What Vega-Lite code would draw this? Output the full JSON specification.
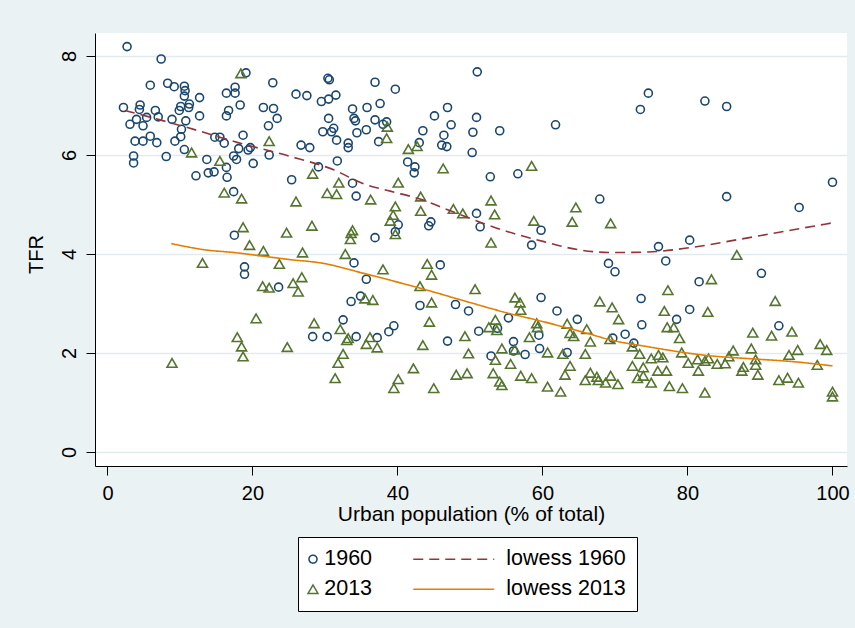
{
"$schema": "https://vega.github.io/schema/vega-lite/v6.json",
"width": 752, "height": 433,
"autosize": {"type": "none"},
"padding": {"left": 95, "top": 33, "right": 8, "bottom": 162},
"background": "#EAF2F3",
"view": {"fill": "#FFFFFF", "stroke": null},
"config": {"font": "Liberation Sans"},
"datasets": {
"pts": [
{"u":2.7,"t":8.19,"s":"1960"},{"u":7.4,"t":7.94,"s":"1960"},{"u":5.9,"t":7.41,"s":"1960"},{"u":8.3,"t":7.45,"s":"1960"},{"u":9.2,"t":7.38,"s":"1960"},{"u":10.6,"t":7.39,"s":"1960"},{"u":10.7,"t":7.30,"s":"1960"},{"u":10.6,"t":7.19,"s":"1960"},{"u":12.7,"t":7.16,"s":"1960"},{"u":11.3,"t":7.03,"s":"1960"},{"u":10.1,"t":6.98,"s":"1960"},{"u":11.2,"t":6.96,"s":"1960"},{"u":9.9,"t":6.90,"s":"1960"},{"u":2.2,"t":6.96,"s":"1960"},{"u":4.5,"t":7.01,"s":"1960"},{"u":4.4,"t":6.92,"s":"1960"},{"u":6.6,"t":6.90,"s":"1960"},{"u":4.0,"t":6.72,"s":"1960"},{"u":5.4,"t":6.76,"s":"1960"},{"u":3.1,"t":6.62,"s":"1960"},{"u":4.9,"t":6.59,"s":"1960"},{"u":7.0,"t":6.77,"s":"1960"},{"u":8.9,"t":6.72,"s":"1960"},{"u":10.8,"t":6.69,"s":"1960"},{"u":12.7,"t":6.79,"s":"1960"},{"u":10.2,"t":6.52,"s":"1960"},{"u":3.8,"t":6.28,"s":"1960"},{"u":4.9,"t":6.28,"s":"1960"},{"u":5.9,"t":6.38,"s":"1960"},{"u":6.8,"t":6.25,"s":"1960"},{"u":9.3,"t":6.28,"s":"1960"},{"u":10.1,"t":6.37,"s":"1960"},{"u":3.6,"t":5.98,"s":"1960"},{"u":3.6,"t":5.84,"s":"1960"},{"u":8.1,"t":5.97,"s":"1960"},{"u":10.6,"t":6.11,"s":"1960"},{"u":14.8,"t":6.36,"s":"1960"},{"u":15.5,"t":6.36,"s":"1960"},{"u":16.1,"t":6.24,"s":"1960"},{"u":18.7,"t":6.40,"s":"1960"},{"u":16.4,"t":7.25,"s":"1960"},{"u":17.6,"t":7.37,"s":"1960"},{"u":17.6,"t":7.25,"s":"1960"},{"u":18.3,"t":7.01,"s":"1960"},{"u":16.7,"t":6.90,"s":"1960"},{"u":16.4,"t":6.79,"s":"1960"},{"u":19.1,"t":7.66,"s":"1960"},{"u":22.8,"t":7.46,"s":"1960"},{"u":21.5,"t":6.96,"s":"1960"},{"u":22.9,"t":6.94,"s":"1960"},{"u":23.4,"t":6.74,"s":"1960"},{"u":22.2,"t":6.59,"s":"1960"},{"u":18.1,"t":6.13,"s":"1960"},{"u":17.4,"t":5.98,"s":"1960"},{"u":19.4,"t":6.10,"s":"1960"},{"u":19.7,"t":6.15,"s":"1960"},{"u":17.8,"t":5.91,"s":"1960"},{"u":20.1,"t":5.83,"s":"1960"},{"u":22.3,"t":6.00,"s":"1960"},{"u":13.7,"t":5.91,"s":"1960"},{"u":16.4,"t":5.75,"s":"1960"},{"u":12.2,"t":5.58,"s":"1960"},{"u":13.9,"t":5.64,"s":"1960"},{"u":14.7,"t":5.66,"s":"1960"},{"u":16.5,"t":5.55,"s":"1960"},{"u":17.4,"t":5.26,"s":"1960"},{"u":25.4,"t":5.50,"s":"1960"},{"u":17.5,"t":4.38,"s":"1960"},{"u":18.9,"t":3.74,"s":"1960"},{"u":18.9,"t":3.59,"s":"1960"},{"u":23.6,"t":3.33,"s":"1960"},
{"u":30.4,"t":7.55,"s":"1960"},{"u":30.6,"t":7.52,"s":"1960"},{"u":36.9,"t":7.47,"s":"1960"},{"u":39.7,"t":7.33,"s":"1960"},{"u":26.0,"t":7.23,"s":"1960"},{"u":27.5,"t":7.20,"s":"1960"},{"u":29.5,"t":7.08,"s":"1960"},{"u":30.5,"t":7.13,"s":"1960"},{"u":31.5,"t":7.21,"s":"1960"},{"u":33.8,"t":6.93,"s":"1960"},{"u":35.8,"t":6.96,"s":"1960"},{"u":37.6,"t":7.04,"s":"1960"},{"u":30.5,"t":6.74,"s":"1960"},{"u":34.0,"t":6.74,"s":"1960"},{"u":34.2,"t":6.69,"s":"1960"},{"u":36.9,"t":6.71,"s":"1960"},{"u":38.0,"t":6.62,"s":"1960"},{"u":38.5,"t":6.67,"s":"1960"},{"u":29.7,"t":6.47,"s":"1960"},{"u":30.9,"t":6.47,"s":"1960"},{"u":31.2,"t":6.54,"s":"1960"},{"u":31.6,"t":6.30,"s":"1960"},{"u":34.4,"t":6.45,"s":"1960"},{"u":35.7,"t":6.51,"s":"1960"},{"u":33.2,"t":6.24,"s":"1960"},{"u":33.2,"t":6.15,"s":"1960"},{"u":37.4,"t":6.27,"s":"1960"},{"u":26.7,"t":6.20,"s":"1960"},{"u":27.9,"t":6.15,"s":"1960"},{"u":43.5,"t":6.49,"s":"1960"},{"u":43.0,"t":6.25,"s":"1960"},{"u":45.1,"t":6.79,"s":"1960"},{"u":46.9,"t":6.96,"s":"1960"},{"u":47.4,"t":6.61,"s":"1960"},{"u":46.4,"t":6.40,"s":"1960"},{"u":46.1,"t":6.20,"s":"1960"},{"u":46.8,"t":6.17,"s":"1960"},{"u":31.7,"t":5.88,"s":"1960"},{"u":29.1,"t":5.76,"s":"1960"},{"u":33.8,"t":5.43,"s":"1960"},{"u":34.3,"t":5.17,"s":"1960"},{"u":41.4,"t":5.86,"s":"1960"},{"u":42.4,"t":5.76,"s":"1960"},{"u":42.3,"t":5.64,"s":"1960"},{"u":40.1,"t":4.59,"s":"1960"},{"u":39.7,"t":4.45,"s":"1960"},{"u":44.3,"t":4.57,"s":"1960"},{"u":44.6,"t":4.65,"s":"1960"},{"u":36.9,"t":4.33,"s":"1960"},
{"u":34.0,"t":3.82,"s":"1960"},{"u":45.9,"t":3.78,"s":"1960"},{"u":35.7,"t":3.49,"s":"1960"},{"u":33.6,"t":3.04,"s":"1960"},{"u":34.9,"t":3.15,"s":"1960"},{"u":43.1,"t":2.96,"s":"1960"},{"u":48.0,"t":2.98,"s":"1960"},{"u":49.8,"t":2.85,"s":"1960"},{"u":32.5,"t":2.67,"s":"1960"},{"u":28.3,"t":2.33,"s":"1960"},{"u":30.3,"t":2.33,"s":"1960"},{"u":34.3,"t":2.33,"s":"1960"},{"u":37.2,"t":2.31,"s":"1960"},{"u":38.8,"t":2.43,"s":"1960"},{"u":39.5,"t":2.55,"s":"1960"},{"u":46.9,"t":2.24,"s":"1960"},
{"u":51.0,"t":7.68,"s":"1960"},{"u":50.9,"t":6.76,"s":"1960"},{"u":50.4,"t":6.46,"s":"1960"},{"u":54.1,"t":6.49,"s":"1960"},{"u":50.3,"t":6.05,"s":"1960"},{"u":61.8,"t":6.61,"s":"1960"},{"u":73.5,"t":6.92,"s":"1960"},{"u":74.6,"t":7.25,"s":"1960"},{"u":52.8,"t":5.56,"s":"1960"},{"u":56.6,"t":5.62,"s":"1960"},{"u":67.9,"t":5.11,"s":"1960"},{"u":50.9,"t":4.82,"s":"1960"},{"u":51.4,"t":4.55,"s":"1960"},{"u":59.8,"t":4.48,"s":"1960"},{"u":58.5,"t":4.18,"s":"1960"},
{"u":82.4,"t":7.09,"s":"1960"},{"u":85.4,"t":6.98,"s":"1960"},{"u":85.4,"t":5.16,"s":"1960"},{"u":100.0,"t":5.45,"s":"1960"},{"u":95.4,"t":4.94,"s":"1960"},{"u":80.3,"t":4.28,"s":"1960"},{"u":76.0,"t":4.15,"s":"1960"},
{"u":69.1,"t":3.81,"s":"1960"},{"u":70.0,"t":3.64,"s":"1960"},{"u":73.6,"t":3.10,"s":"1960"},{"u":73.7,"t":2.57,"s":"1960"},{"u":59.8,"t":3.12,"s":"1960"},{"u":62.0,"t":2.85,"s":"1960"},{"u":64.8,"t":2.68,"s":"1960"},{"u":55.3,"t":2.71,"s":"1960"},{"u":51.2,"t":2.44,"s":"1960"},{"u":53.8,"t":2.50,"s":"1960"},{"u":59.5,"t":2.36,"s":"1960"},{"u":56.0,"t":2.23,"s":"1960"},{"u":56.0,"t":2.04,"s":"1960"},{"u":57.6,"t":1.97,"s":"1960"},{"u":59.6,"t":2.09,"s":"1960"},{"u":52.9,"t":1.94,"s":"1960"},{"u":63.4,"t":2.01,"s":"1960"},{"u":69.7,"t":2.30,"s":"1960"},{"u":71.4,"t":2.38,"s":"1960"},{"u":72.6,"t":2.20,"s":"1960"},
{"u":77.0,"t":3.86,"s":"1960"},{"u":90.2,"t":3.61,"s":"1960"},{"u":81.6,"t":3.44,"s":"1960"},{"u":80.3,"t":2.88,"s":"1960"},{"u":78.5,"t":2.68,"s":"1960"},{"u":92.6,"t":2.55,"s":"1960"},
{"u":18.4,"t":7.65,"s":"2013"},{"u":22.3,"t":6.28,"s":"2013"},{"u":11.6,"t":6.05,"s":"2013"},{"u":15.5,"t":5.88,"s":"2013"},{"u":16.1,"t":5.24,"s":"2013"},{"u":18.5,"t":5.12,"s":"2013"},{"u":18.7,"t":4.54,"s":"2013"},{"u":24.7,"t":4.43,"s":"2013"},{"u":19.6,"t":4.18,"s":"2013"},{"u":21.5,"t":4.06,"s":"2013"},
{"u":13.1,"t":3.82,"s":"2013"},{"u":23.7,"t":3.80,"s":"2013"},{"u":21.4,"t":3.35,"s":"2013"},{"u":22.3,"t":3.32,"s":"2013"},{"u":20.5,"t":2.70,"s":"2013"},{"u":17.9,"t":2.32,"s":"2013"},{"u":18.5,"t":2.13,"s":"2013"},{"u":18.7,"t":1.93,"s":"2013"},{"u":8.9,"t":1.80,"s":"2013"},{"u":24.8,"t":2.12,"s":"2013"},
{"u":38.6,"t":6.57,"s":"2013"},{"u":38.5,"t":6.34,"s":"2013"},{"u":41.5,"t":6.12,"s":"2013"},{"u":42.7,"t":6.18,"s":"2013"},{"u":46.3,"t":5.73,"s":"2013"},{"u":28.3,"t":5.62,"s":"2013"},{"u":31.9,"t":5.44,"s":"2013"},{"u":40.1,"t":5.44,"s":"2013"},{"u":30.3,"t":5.23,"s":"2013"},{"u":31.6,"t":5.21,"s":"2013"},{"u":26.0,"t":5.06,"s":"2013"},{"u":36.3,"t":5.10,"s":"2013"},{"u":43.2,"t":5.16,"s":"2013"},{"u":39.7,"t":4.96,"s":"2013"},{"u":43.2,"t":4.87,"s":"2013"},{"u":47.7,"t":4.91,"s":"2013"},{"u":49.0,"t":4.82,"s":"2013"},{"u":39.4,"t":4.79,"s":"2013"},{"u":39.0,"t":4.67,"s":"2013"},{"u":28.2,"t":4.57,"s":"2013"},{"u":33.8,"t":4.48,"s":"2013"},{"u":33.6,"t":4.42,"s":"2013"},{"u":33.5,"t":4.30,"s":"2013"},{"u":39.7,"t":4.40,"s":"2013"},
{"u":26.9,"t":4.03,"s":"2013"},{"u":32.8,"t":4.00,"s":"2013"},{"u":38.0,"t":3.69,"s":"2013"},{"u":44.1,"t":3.80,"s":"2013"},{"u":44.7,"t":3.58,"s":"2013"},{"u":26.8,"t":3.53,"s":"2013"},{"u":25.6,"t":3.41,"s":"2013"},{"u":26.3,"t":3.24,"s":"2013"},{"u":43.1,"t":3.35,"s":"2013"},{"u":35.5,"t":3.10,"s":"2013"},{"u":36.6,"t":3.07,"s":"2013"},{"u":44.7,"t":3.02,"s":"2013"},{"u":44.4,"t":2.63,"s":"2013"},{"u":28.5,"t":2.60,"s":"2013"},{"u":32.1,"t":2.48,"s":"2013"},{"u":33.0,"t":2.26,"s":"2013"},{"u":33.2,"t":2.30,"s":"2013"},{"u":36.2,"t":2.32,"s":"2013"},{"u":35.7,"t":2.18,"s":"2013"},{"u":37.2,"t":2.11,"s":"2013"},{"u":43.5,"t":2.16,"s":"2013"},{"u":32.5,"t":1.98,"s":"2013"},{"u":31.8,"t":1.80,"s":"2013"},{"u":31.4,"t":1.49,"s":"2013"},{"u":42.2,"t":1.69,"s":"2013"},{"u":40.1,"t":1.47,"s":"2013"},{"u":39.5,"t":1.29,"s":"2013"},{"u":45.0,"t":1.29,"s":"2013"},{"u":48.1,"t":1.56,"s":"2013"},{"u":49.6,"t":1.59,"s":"2013"},{"u":49.3,"t":2.34,"s":"2013"},{"u":49.8,"t":1.99,"s":"2013"},
{"u":58.5,"t":5.78,"s":"2013"},{"u":52.9,"t":5.08,"s":"2013"},{"u":53.4,"t":4.80,"s":"2013"},{"u":58.8,"t":4.67,"s":"2013"},{"u":64.6,"t":4.94,"s":"2013"},{"u":64.1,"t":4.65,"s":"2013"},{"u":69.4,"t":4.62,"s":"2013"},{"u":52.9,"t":4.23,"s":"2013"},
{"u":50.7,"t":3.29,"s":"2013"},{"u":56.2,"t":3.12,"s":"2013"},{"u":56.9,"t":3.02,"s":"2013"},{"u":57.0,"t":2.87,"s":"2013"},{"u":67.9,"t":3.04,"s":"2013"},{"u":69.6,"t":2.92,"s":"2013"},{"u":70.5,"t":2.68,"s":"2013"},{"u":53.5,"t":2.67,"s":"2013"},{"u":52.6,"t":2.52,"s":"2013"},{"u":53.7,"t":2.46,"s":"2013"},{"u":59.2,"t":2.60,"s":"2013"},{"u":59.3,"t":2.52,"s":"2013"},{"u":58.2,"t":2.32,"s":"2013"},{"u":54.4,"t":2.09,"s":"2013"},{"u":56.2,"t":2.07,"s":"2013"},{"u":53.5,"t":1.86,"s":"2013"},{"u":55.6,"t":1.78,"s":"2013"},{"u":60.7,"t":2.01,"s":"2013"},{"u":63.4,"t":2.59,"s":"2013"},{"u":63.8,"t":2.40,"s":"2013"},{"u":64.3,"t":2.34,"s":"2013"},{"u":66.1,"t":2.48,"s":"2013"},{"u":66.6,"t":2.23,"s":"2013"},{"u":62.8,"t":1.98,"s":"2013"},{"u":65.9,"t":1.98,"s":"2013"},{"u":69.3,"t":2.28,"s":"2013"},{"u":72.4,"t":2.13,"s":"2013"},{"u":73.4,"t":1.98,"s":"2013"},{"u":53.2,"t":1.59,"s":"2013"},{"u":54.1,"t":1.42,"s":"2013"},{"u":54.4,"t":1.35,"s":"2013"},{"u":57.0,"t":1.54,"s":"2013"},{"u":58.5,"t":1.49,"s":"2013"},{"u":60.7,"t":1.32,"s":"2013"},{"u":62.5,"t":1.22,"s":"2013"},{"u":63.1,"t":1.56,"s":"2013"},{"u":63.8,"t":1.74,"s":"2013"},{"u":65.9,"t":1.45,"s":"2013"},{"u":66.6,"t":1.60,"s":"2013"},{"u":67.5,"t":1.52,"s":"2013"},{"u":67.7,"t":1.45,"s":"2013"},{"u":68.7,"t":1.40,"s":"2013"},{"u":69.4,"t":1.54,"s":"2013"},{"u":70.4,"t":1.37,"s":"2013"},{"u":72.4,"t":1.74,"s":"2013"},{"u":73.9,"t":1.71,"s":"2013"},{"u":73.1,"t":1.49,"s":"2013"},{"u":73.9,"t":1.54,"s":"2013"},
{"u":86.8,"t":3.98,"s":"2013"},{"u":83.3,"t":3.49,"s":"2013"},{"u":77.3,"t":3.27,"s":"2013"},{"u":92.1,"t":3.05,"s":"2013"},{"u":76.8,"t":2.85,"s":"2013"},{"u":82.8,"t":2.83,"s":"2013"},{"u":77.2,"t":2.52,"s":"2013"},{"u":78.1,"t":2.52,"s":"2013"},{"u":78.9,"t":2.30,"s":"2013"},{"u":89.0,"t":2.41,"s":"2013"},{"u":91.6,"t":2.35,"s":"2013"},{"u":94.4,"t":2.43,"s":"2013"},{"u":98.3,"t":2.18,"s":"2013"},{"u":99.2,"t":2.06,"s":"2013"},{"u":95.2,"t":2.06,"s":"2013"},{"u":94.0,"t":1.96,"s":"2013"},{"u":88.8,"t":2.09,"s":"2013"},{"u":86.3,"t":2.05,"s":"2013"},{"u":85.7,"t":1.93,"s":"2013"},{"u":85.2,"t":1.79,"s":"2013"},{"u":84.1,"t":1.78,"s":"2013"},{"u":82.9,"t":1.89,"s":"2013"},{"u":82.4,"t":1.84,"s":"2013"},{"u":81.4,"t":1.87,"s":"2013"},{"u":80.1,"t":1.80,"s":"2013"},{"u":79.2,"t":2.01,"s":"2013"},{"u":81.5,"t":1.64,"s":"2013"},{"u":77.1,"t":1.64,"s":"2013"},{"u":76.0,"t":1.96,"s":"2013"},{"u":76.6,"t":1.91,"s":"2013"},{"u":75.0,"t":1.89,"s":"2013"},{"u":75.9,"t":1.64,"s":"2013"},{"u":75.0,"t":1.40,"s":"2013"},{"u":77.5,"t":1.33,"s":"2013"},{"u":79.3,"t":1.29,"s":"2013"},{"u":82.4,"t":1.20,"s":"2013"},{"u":87.7,"t":1.72,"s":"2013"},{"u":89.4,"t":1.87,"s":"2013"},{"u":89.4,"t":1.76,"s":"2013"},{"u":89.7,"t":1.56,"s":"2013"},{"u":92.6,"t":1.45,"s":"2013"},{"u":93.8,"t":1.50,"s":"2013"},{"u":95.3,"t":1.40,"s":"2013"},{"u":97.9,"t":1.76,"s":"2013"},{"u":100.0,"t":1.22,"s":"2013"},{"u":100.0,"t":1.12,"s":"2013"},{"u":87.5,"t":1.64,"s":"2013"}
],
"lw": [
{"u":2.4,"t":6.9,"s":"lowess 1960"},{"u":7,"t":6.72,"s":"lowess 1960"},{"u":12.3,"t":6.5,"s":"lowess 1960"},{"u":18,"t":6.25,"s":"lowess 1960"},{"u":25,"t":5.98,"s":"lowess 1960"},{"u":31.2,"t":5.7,"s":"lowess 1960"},{"u":35.3,"t":5.42,"s":"lowess 1960"},{"u":39,"t":5.27,"s":"lowess 1960"},{"u":43.1,"t":5.11,"s":"lowess 1960"},{"u":47,"t":4.89,"s":"lowess 1960"},{"u":50,"t":4.72,"s":"lowess 1960"},{"u":54.6,"t":4.48,"s":"lowess 1960"},{"u":60.2,"t":4.25,"s":"lowess 1960"},{"u":64.8,"t":4.09,"s":"lowess 1960"},{"u":69.4,"t":4.03,"s":"lowess 1960"},{"u":74.5,"t":4.04,"s":"lowess 1960"},{"u":80.4,"t":4.13,"s":"lowess 1960"},{"u":87.3,"t":4.3,"s":"lowess 1960"},{"u":94.2,"t":4.48,"s":"lowess 1960"},{"u":100,"t":4.63,"s":"lowess 1960"},
{"u":8.8,"t":4.21,"s":"lowess 2013"},{"u":13.7,"t":4.08,"s":"lowess 2013"},{"u":17.4,"t":4.03,"s":"lowess 2013"},{"u":25,"t":3.89,"s":"lowess 2013"},{"u":29.8,"t":3.81,"s":"lowess 2013"},{"u":35.3,"t":3.61,"s":"lowess 2013"},{"u":43.1,"t":3.31,"s":"lowess 2013"},{"u":50,"t":3.02,"s":"lowess 2013"},{"u":54.6,"t":2.83,"s":"lowess 2013"},{"u":60.2,"t":2.63,"s":"lowess 2013"},{"u":66.1,"t":2.4,"s":"lowess 2013"},{"u":69.8,"t":2.25,"s":"lowess 2013"},{"u":74,"t":2.14,"s":"lowess 2013"},{"u":82.7,"t":1.95,"s":"lowess 2013"},{"u":89.1,"t":1.88,"s":"lowess 2013"},{"u":94.2,"t":1.83,"s":"lowess 2013"},{"u":100,"t":1.74,"s":"lowess 2013"}
]
},
"encoding": {
"x": {"field": "u", "type": "quantitative", "scale": {"domain": [-1.724, 102.0], "nice": false, "zero": false},
 "axis": {"values": [0, 20, 40, 60, 80, 100], "title": "Urban population (% of total)", "grid": false, "domainColor": "#000000", "domainWidth": 1, "tickColor": "#000000", "tickSize": 9, "tickWidth": 1, "labelFontSize": 20, "labelColor": "#000000", "labelPadding": 8, "labelFlush": false, "labelOverlap": false, "titleFontSize": 21, "titleFontWeight": "normal", "titleColor": "#000000", "titleX": 376, "titleY": 37, "titleBaseline": "top", "titleAlign": "center"}},
"y": {"field": "t", "type": "quantitative", "scale": {"domain": [-0.283, 8.465], "nice": false, "zero": false},
 "axis": {"values": [0, 2, 4, 6, 8], "title": "TFR", "grid": true, "gridColor": "#E1EBEF", "gridWidth": 1.5, "domainColor": "#000000", "domainWidth": 1, "tickColor": "#000000", "tickSize": 9, "tickWidth": 1, "labelAngle": 270, "labelAlign": "center", "labelBaseline": "bottom", "labelPadding": 6.6, "labelFontSize": 20, "labelColor": "#000000", "labelFlush": false, "labelOverlap": false, "titleFontSize": 20, "titleFontWeight": "normal", "titleColor": "#000000", "titleAngle": 270, "titleX": -48.6, "titleY": 221, "titleAlign": "center", "titleBaseline": "bottom"}}
},
"layer": [
{"data": {"name": "pts"},
 "mark": {"type": "point", "filled": false, "strokeWidth": 1.6, "opacity": 1, "clip": false},
 "encoding": {
  "color": {"field": "s", "type": "nominal", "scale": {"domain": ["1960", "2013", "lowess 1960", "lowess 2013"], "range": ["#1A476F", "#55752F", "#90353B", "#E37E00"]},
   "legend": {"title": null, "orient": "none", "legendX": 203, "legendY": 504, "columns": 2, "padding": 11, "strokeColor": "#000000", "fillColor": "#FFFFFF", "rowPadding": 7.5, "columnPadding": 37, "symbolOffset": -6.75, "labelOffset": 0.5, "symbolStrokeWidth": 1.5, "labelFontSize": 21.5, "labelColor": "#000000", "labelLimit": 300}},
  "shape": {"field": "s", "type": "nominal", "scale": {"domain": ["1960", "2013", "lowess 1960", "lowess 2013"], "range": ["circle", "triangle-up", "M-81.75,0H-0.75", "M-81.75,0H-0.75"]},
   "legend": {"title": null, "orient": "none", "legendX": 203, "legendY": 504, "columns": 2, "padding": 11, "strokeColor": "#000000", "fillColor": "#FFFFFF", "rowPadding": 7.5, "columnPadding": 37, "symbolOffset": -6.75, "labelOffset": 0.5, "symbolStrokeWidth": 1.5, "labelFontSize": 21.5, "labelColor": "#000000", "labelLimit": 300}},
  "size": {"field": "s", "type": "nominal", "scale": {"type": "ordinal", "domain": ["1960", "2013", "lowess 1960", "lowess 2013"], "range": [64, 100, 4, 4]},
   "legend": {"title": null, "orient": "none", "legendX": 203, "legendY": 504, "columns": 2, "padding": 11, "strokeColor": "#000000", "fillColor": "#FFFFFF", "rowPadding": 7.5, "columnPadding": 37, "symbolOffset": -6.75, "labelOffset": 0.5, "symbolStrokeWidth": 1.5, "labelFontSize": 21.5, "labelColor": "#000000", "labelLimit": 300}}
 }},
{"data": {"name": "lw"},
 "mark": {"type": "line", "strokeWidth": 1.6, "interpolate": "monotone"},
 "encoding": {
  "color": {"field": "s", "type": "nominal", "scale": {"domain": ["1960", "2013", "lowess 1960", "lowess 2013"], "range": ["#1A476F", "#55752F", "#90353B", "#E37E00"]}},
  "strokeDash": {"field": "s", "type": "nominal", "scale": {"domain": ["1960", "2013", "lowess 1960", "lowess 2013"], "range": [[1, 0], [1, 0], [10, 6], [1, 0]]},
   "legend": {"title": null, "orient": "none", "legendX": 203, "legendY": 504, "columns": 2, "padding": 11, "strokeColor": "#000000", "fillColor": "#FFFFFF", "rowPadding": 7.5, "columnPadding": 37, "symbolOffset": -6.75, "labelOffset": 0.5, "symbolStrokeWidth": 1.5, "labelFontSize": 21.5, "labelColor": "#000000", "labelLimit": 300}}
 }}
]
}
